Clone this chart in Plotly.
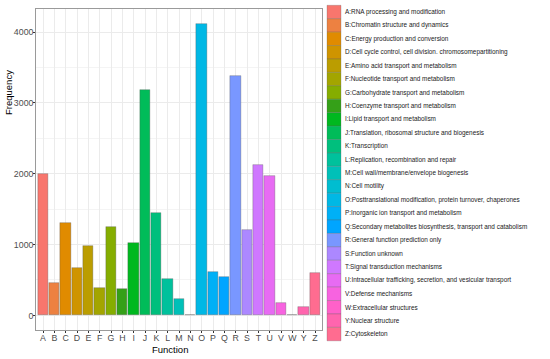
import math
import plotly.graph_objects as go

# ---------------- data ----------------
categories = ["A", "B", "C", "D", "E", "F", "G", "H", "I", "J", "K", "L", "M",
              "N", "O", "P", "Q", "R", "S", "T", "U", "V", "W", "Y", "Z"]
frequency = [1990, 451, 1300, 672, 981, 380, 1244, 366, 1018, 3180, 1451, 521, 235,
             8, 4113, 615, 540, 3380, 1211, 2122, 1972, 173, 5, 117, 596]
descriptions = [
    "RNA processing and modification",
    "Chromatin structure and dynamics",
    "Energy production and conversion",
    "Cell cycle control, cell division. chromosomepartitioning",
    "Amino acid transport and metabolism",
    "Nucleotide transport and metabolism",
    "Carbohydrate transport and metabolism",
    "Coenzyme transport and metabolism",
    "Lipid transport and metabolism",
    "Translation, ribosomal structure and biogenesis",
    "Transcription",
    "Replication, recombination and repair",
    "Cell wall/membrane/envelope biogenesis",
    "Cell motility",
    "Posttranslational modification, protein turnover, chaperones",
    "Inorganic ion transport and metabolism",
    "Secondary metabolites biosynthesis, transport and catabolism",
    "General function prediction only",
    "Function unknown",
    "Signal transduction mechanisms",
    "Intracellular trafficking, secretion, and vesicular transport",
    "Defense mechanisms",
    "Extracellular structures",
    "Nuclear structure",
    "Cytoskeleton",
]
y_ticks = [0, 1000, 2000, 3000, 4000]


# ---------------- colours (ggplot hue palette) ----------------
def hcl_hex(h, c=100.0, l=65.0):
    hr = math.radians(h)
    U = c * math.cos(hr)
    V = c * math.sin(hr)
    Xn, Yn, Zn = 95.047, 100.0, 108.883
    Y = Yn * (((l + 16) / 116) ** 3 if l > 8 else l / 903.3)
    t = Xn + Yn + Zn
    x = Xn / t
    y = Yn / t
    uN = 2 * x / (6 * y - x + 1.5)
    vN = 4.5 * y / (6 * y - x + 1.5)
    u = U / (13 * l) + uN
    v = V / (13 * l) + vN
    X = 9.0 * Y * u / (4 * v)
    Z = -X / 3 - 5 * Y + 3 * Y / v
    r = (3.240479 * X - 1.537150 * Y - 0.498535 * Z) / Yn
    g = (-0.969256 * X + 1.875992 * Y + 0.041556 * Z) / Yn
    b = (0.055648 * X - 0.204043 * Y + 1.057311 * Z) / Yn

    def gam(val):
        val = 12.92 * val if val <= 0.00304 else 1.055 * val ** (1 / 2.4) - 0.055
        return max(0, min(255, round(val * 255)))
    return "#%02X%02X%02X" % (gam(r), gam(g), gam(b))


n = len(categories)
colors = [hcl_hex(15 + 360 * i / n) for i in range(n)]
colors[7] = "#35A018"  # darker green seen in the reference for H

W, H = 550, 359
px = lambda x: x / W
py = lambda y: 1 - y / H

fig = go.Figure()
fig.add_trace(go.Bar(
    x=categories, y=frequency,
    marker=dict(color=colors, line=dict(color="rgba(80,80,80,0.45)", width=0.7)),
    width=0.9, showlegend=False, hoverinfo="skip",
))

shapes = []
annotations = []
step = 13.42
for i, (cat, desc, col) in enumerate(zip(categories, descriptions, colors)):
    cy = 12 + i * step
    shapes.append(dict(type="rect", xref="paper", yref="paper",
                       x0=px(327), x1=px(341), y0=py(cy - step / 2), y1=py(cy + step / 2),
                       fillcolor=col, line=dict(color="rgba(90,90,90,0.45)", width=0.6)))
    annotations.append(dict(xref="paper", yref="paper", x=px(343), y=py(cy),
                            text=f"{cat}:{desc}", showarrow=False, xanchor="left",
                            yanchor="middle",
                            font=dict(size=6.4, color="#1A1A1A", family="Liberation Sans, Arial")))

annotations.append(dict(xref="paper", yref="paper", x=px(9), y=py(93), text="Frequency",
                        textangle=-90, showarrow=False, xanchor="center", yanchor="middle",
                        font=dict(size=9.5, color="black", family="Liberation Sans, Arial")))
annotations.append(dict(xref="paper", yref="paper", x=px(170), y=py(349), text="Function",
                        showarrow=False, xanchor="center", yanchor="middle",
                        font=dict(size=9.5, color="black", family="Liberation Sans, Arial")))

fig.update_layout(
    width=W, height=H,
    margin=dict(l=0, r=0, t=0, b=0),
    paper_bgcolor="white", plot_bgcolor="white",
    bargap=0,
    shapes=shapes, annotations=annotations,
    font=dict(family="Liberation Sans, Arial", size=8.8, color="#4D4D4D"),
)
fig.update_xaxes(
    domain=[px(36.2), px(321.8)],
    type="category", categoryorder="array", categoryarray=categories,
    range=[-0.6, n - 1 + 0.6],
    showgrid=True, gridcolor="#EBEBEB", gridwidth=1,
    showline=True, linecolor="#9A9A9A", linewidth=1, mirror=True,
    ticks="outside", ticklen=2, tickcolor="#333333", tickwidth=1,
    ticklabelstandoff=-3,
    tickfont=dict(size=8.8, color="#4D4D4D"),
)
fig.update_yaxes(
    domain=[py(330), py(9)],
    range=[-206, 4326],
    tickvals=y_ticks, ticktext=[str(v) for v in y_ticks],
    showgrid=True, gridcolor="#EBEBEB", gridwidth=1, zeroline=False,
    minor=dict(dtick=500, tick0=0, showgrid=True, gridcolor="#F4F4F4", gridwidth=0.5, ticks=""),
    showline=True, linecolor="#9A9A9A", linewidth=1, mirror=True,
    ticks="outside", ticklen=2, tickcolor="#333333", tickwidth=1,
    ticklabelstandoff=-2,
    tickfont=dict(size=8.8, color="#4D4D4D"),
)

fig.write_html("out.html", config={"displayModeBar": False},
               post_script="document.body.style.margin='0';")
